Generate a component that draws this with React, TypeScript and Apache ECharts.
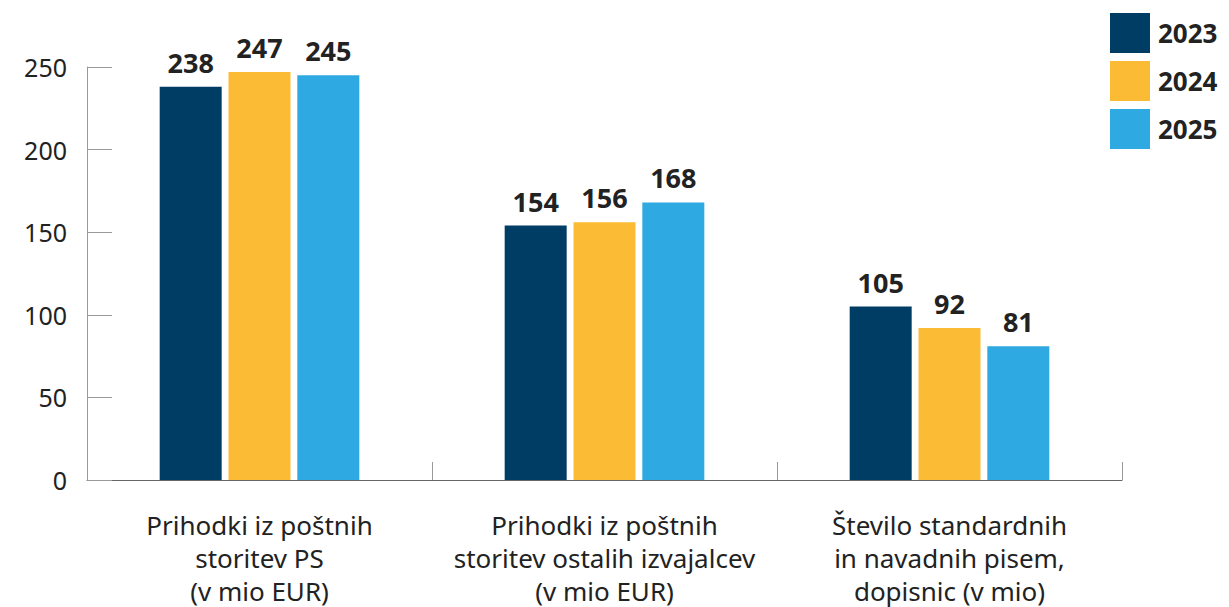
import React, { useEffect, useRef } from "react";
import * as echarts from "echarts";

const categories = [
  "Prihodki iz poštnih\nstoritev PS\n(v mio EUR)",
  "Prihodki iz poštnih\nstoritev ostalih izvajalcev\n(v mio EUR)",
  "Število standardnih\nin navadnih pisem,\ndopisnic (v mio)",
];
const seriesNames = ["2023", "2024", "2025"];
const values2023 = [238, 154, 105];
const values2024 = [247, 156, 92];
const values2025 = [245, 168, 81];
const colors = ["#003d64", "#fbbb35", "#2fa9e1"];

export default function App() {
  const ref = useRef<HTMLDivElement>(null);
  useEffect(() => {
    if (!ref.current) return;
    const chart = echarts.init(ref.current, null, { renderer: "svg" });
    const all = [values2023, values2024, values2025];
    chart.setOption({
      animation: false,
      textStyle: { fontFamily: "Noto Sans" },
      legend: {
        orient: "vertical",
        left: 1110,
        top: 13,
        padding: 0,
        itemWidth: 40,
        itemHeight: 40,
        itemGap: 8,
        icon: "rect",
        data: seriesNames,
        textStyle: { fontSize: 26, fontWeight: "bold", color: "#222", padding: [0, 0, 0, 3] },
      },
      grid: { left: 87, right: 107, top: 67, bottom: 127 },
      xAxis: {
        type: "category",
        data: categories,
        axisLine: { lineStyle: { color: "#666", width: 1 } },
        axisTick: { show: true, inside: true, length: 18, interval: 0, lineStyle: { color: "#999" } },
        axisLabel: { fontSize: 26, color: "#222", lineHeight: 33, margin: 28, interval: 0 },
      },
      yAxis: {
        type: "value",
        min: 0,
        max: 250,
        interval: 50,
        splitLine: { show: false },
        axisLine: { show: true, lineStyle: { color: "#999" } },
        axisTick: { show: true, inside: true, length: 25, lineStyle: { color: "#999" } },
        axisLabel: { fontSize: 25, color: "#222", margin: 20 },
      },
      series: seriesNames.map((name, i) => ({
        name,
        type: "bar",
        data: all[i],
        barWidth: 62,
        barGap: "11%",
        itemStyle: { color: colors[i] },
        label: {
          show: true,
          position: "top",
          distance: 11,
          fontSize: 27,
          fontWeight: "bold",
          color: "#222",
        },
      })),
    });
    return () => chart.dispose();
  }, []);
  return (
    <div
      ref={ref}
      style={{ position: "fixed", left: 0, top: 0, width: 1229, height: 607, background: "#fff" }}
    />
  );
}
